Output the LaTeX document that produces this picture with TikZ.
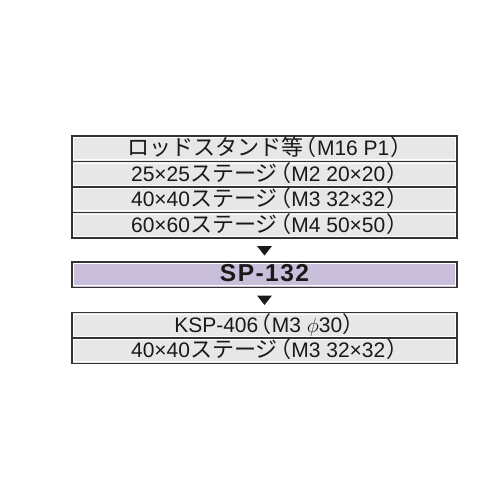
\documentclass[tikz,border=0pt]{standalone}
\usepackage{fontspec}
\setmainfont{Liberation Sans}
\newfontfamily\jpfont[Scale=1.05]{Noto Sans CJK JP}
\newfontfamily\jparen[Scale=1.05, RawFeature=+palt]{Noto Sans CJK JP}
\newcommand{\jtext}[1]{{\jpfont #1}}
\newcommand{\jlp}{\hspace{1.5pt}{\jparen （}\hspace{1pt}}
\newcommand{\jrp}{\hspace{1.5pt}{\jparen ）}}
\usetikzlibrary{positioning}
\definecolor{cellgray}{HTML}{E7E7E7}
\definecolor{lavender}{HTML}{C9BFDB}
\tikzset{
        x=1pt, y=-1pt, % one unit is one pixel of the reference
        cell/.style={draw=black!80, line width=1.2pt, fill=cellgray, % one row of a table
            minimum width=385pt, minimum height=25.5pt, inner sep=0pt, outer sep=0pt,
            text height=15pt, text depth=1pt, font=\fontsize{21}{23}\selectfont, text=black!90,
            path picture={\draw[white, line width=1pt]
                ([shift={(1.6pt,-1.6pt)}]path picture bounding box.north west) rectangle
                ([shift={(-1.6pt,1.6pt)}]path picture bounding box.south east);}},
        down/.style={fill=black!90}, % the small arrow heads between the tables
    }
\begin{document}
\begin{tikzpicture}
    \useasboundingbox (0,0) rectangle (500,500);
    \node[cell] (rod) at (264.5,148.75) {\jtext{ロッドスタンド等}\jlp M16 P1\jrp};
    \node[cell, below=0pt of rod] (st25) {25×25\jtext{ステージ}\jlp M2 20×20\jrp};
    \node[cell, below=0pt of st25] (st40) {40×40\jtext{ステージ}\jlp M3 32×32\jrp};
    \node[cell, below=0pt of st40] (st60) {60×60\jtext{ステージ}\jlp M4 50×50\jrp};
    \node[cell, fill=lavender, below=24pt of st60, font=\fontsize{24.5}{26}\bfseries\addfontfeature{LetterSpace=6}] (sp) {SP-132};
    \node[cell, below=25pt of sp] (ksp) {KSP-406\jlp M3 $\phi$30\jrp};
    \node[cell, below=0pt of ksp] (st40b) {40×40\jtext{ステージ}\jlp M3 32×32\jrp};
    \coordinate[below=8pt of st60] (a1);
    \coordinate[below=8pt of sp] (a2);
    \fill[down] ([xshift=-7.5pt]a1) -- ([xshift=7.5pt]a1) -- ([yshift=-9.5pt]a1) -- cycle;
    \fill[down] ([xshift=-7.5pt]a2) -- ([xshift=7.5pt]a2) -- ([yshift=-9.5pt]a2) -- cycle;
\end{tikzpicture}
\end{document}
